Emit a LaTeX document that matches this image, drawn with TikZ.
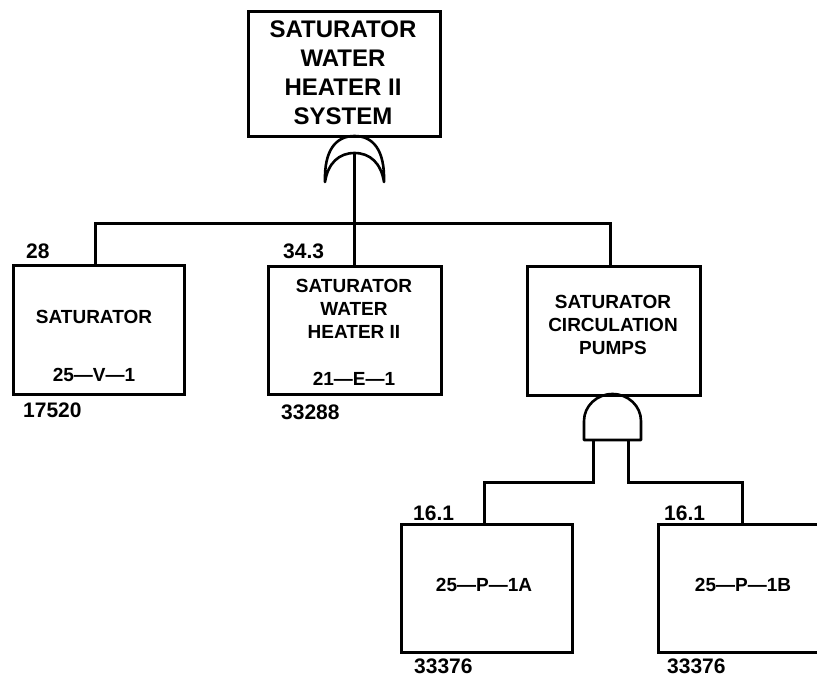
\documentclass[tikz,border=0pt]{standalone}
\usepackage{fontspec}
\setmainfont{Liberation Sans}
\begin{document}
\begin{tikzpicture}[x=1pt,y=-1pt,
  box/.style={draw, line width=2.7pt, inner sep=0pt},
  wire/.style={line width=3pt},
  gate/.style={line width=2.6pt, line join=round},
  lbl/.style={inner sep=0pt, align=center, font=\bfseries\fontsize{19}{23}\selectfont},
  ttl/.style={inner sep=0pt, align=center, font=\bfseries\fontsize{24}{29}\selectfont},
  num/.style={inner sep=0pt, anchor=west, font=\bfseries\fontsize{21}{25}\selectfont}]
\useasboundingbox (0,0) rectangle (817,677);
\clip (0,0) rectangle (817,677);

% boxes
\node[box, anchor=north west, minimum width=192pt, minimum height=125pt] (top) at (247,10) {};
\node[box, anchor=north west, minimum width=171pt, minimum height=129pt] (b1) at (12,264) {};
\node[box, anchor=north west, minimum width=173pt, minimum height=128pt] (b2) at (267,265) {};
\node[box, anchor=north west, minimum width=173pt, minimum height=129pt] (b3) at (526,265) {};
\node[box, anchor=north west, minimum width=171pt, minimum height=128pt] (b4) at (400,523) {};
\node[box, anchor=north west, minimum width=171pt, minimum height=128pt] (b5) at (657,523) {};

% OR gate
\coordinate (orL) at (325,182);
\coordinate (orR) at (384,182);
\coordinate (orT) at (354.5,136);
\coordinate (orin) at (354.5,153);
\draw[gate] (orL) .. controls (324,150) and (336,136) .. (orT)
  .. controls (373,136) and (385,150) .. (orR)
  .. controls (381,163) and (370,153) .. (orin)
  .. controls (339,153) and (328,163) .. (orL) -- cycle;

% AND gate
\coordinate (andL) at (593,440);
\coordinate (andR) at (628,440);
\draw[gate] (584,440) -- (584,421) arc[start angle=180, end angle=0, x radius=28.5pt, y radius=27pt] -- (641,440) -- cycle;

% connectors
\coordinate (orbar) at (354.5,223);
\draw[wire] (orin) -- (orbar);
\draw[wire] ([xshift=83pt]b1.north west) |- (orbar) -| ([xshift=84pt]b3.north west);
\draw[wire] (orbar) -- (b2.north -| orbar);
\draw[wire] (andL) -- ++(0,42) -| ([xshift=84pt]b4.north west);
\draw[wire] (andR) -- ++(0,42) -| ([xshift=85pt]b5.north west);

% texts
\node[ttl] (tt) at (343,72.5) {SATURATOR\\WATER\\HEATER II\\SYSTEM};
\node[lbl] (t1a) at (94,317) {SATURATOR};
\node[lbl] (t1b) at (94,375) {25—V—1};
\node[lbl] (t2a) at (354,309) {SATURATOR\\WATER\\HEATER II};
\node[lbl] (t2b) at (354,379) {21—E—1};
\node[lbl] (t3a) at (613,325) {SATURATOR\\CIRCULATION\\PUMPS};
\node[lbl] (t4a) at (484,585) {25—P—1A};
\node[lbl] (t5a) at (743,585) {25—P—1B};

\node[num] (n1) at (26,251) {28};
\node[num] (n2) at (23,410) {17520};
\node[num] (n3) at (283,251) {34.3};
\node[num] (n4) at (281,412) {33288};
\node[num] (n5) at (413,513) {16.1};
\node[num] (n6) at (414,666) {33376};
\node[num] (n7) at (664,513) {16.1};
\node[num] (n8) at (667,666) {33376};
\end{tikzpicture}
\end{document}
